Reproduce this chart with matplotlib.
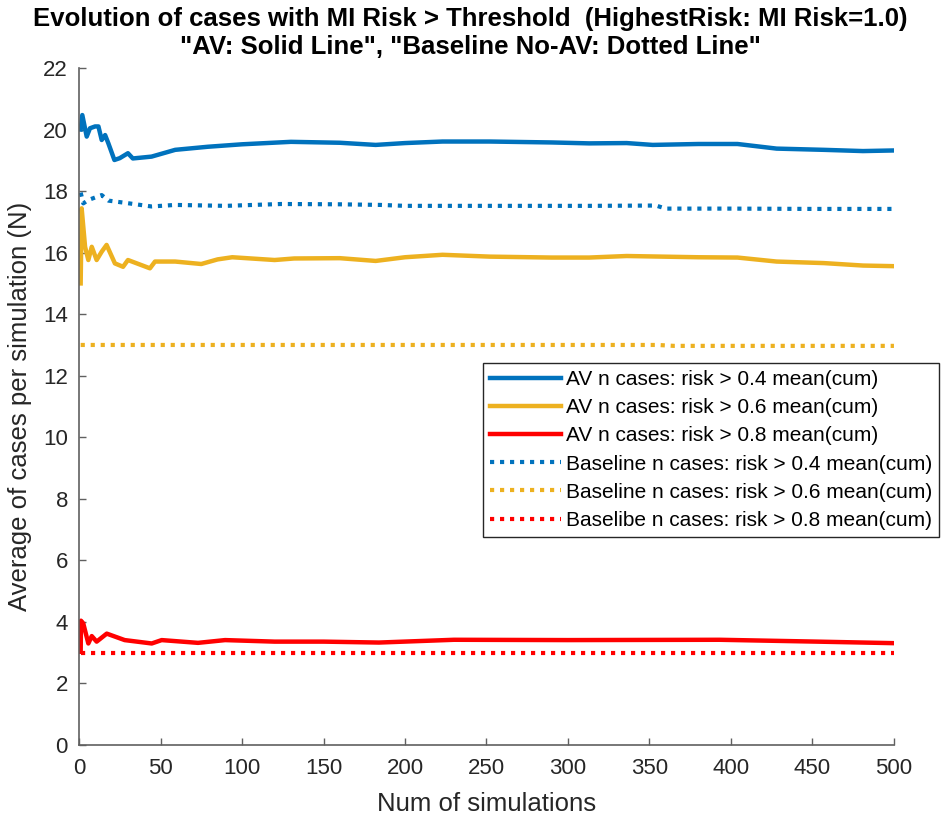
import matplotlib
matplotlib.use("Agg")
import matplotlib.pyplot as plt

plt.rcParams['font.family'] = ['Liberation Sans', 'DejaVu Sans']

# cumulative mean of cases per simulation, AV runs (solid)
av04_x = [1, 2, 4.7, 6.7, 9.8, 11.9, 13.9, 16, 18, 21.7, 25, 30, 33, 44.5, 59, 79, 100, 130,
          160, 182, 200, 223, 252, 290, 313, 336, 352, 380, 404, 428, 457, 481, 500]
av04_y = [20.0, 20.47, 19.77, 20.04, 20.1, 20.1, 19.66, 19.82, 19.55, 19.01, 19.07, 19.23, 19.06,
          19.12, 19.34, 19.44, 19.52, 19.6, 19.57, 19.5, 19.56, 19.61, 19.61, 19.58, 19.55,
          19.56, 19.5, 19.53, 19.53, 19.38, 19.34, 19.3, 19.32]

av06_x = [1, 1.6, 3.7, 5.7, 7.8, 10.8, 13.9, 16.9, 22, 27, 30, 43.5, 46.6, 59, 75, 85, 94,
          120, 132, 160, 182, 200, 223, 252, 290, 313, 336, 380, 404, 428, 457, 481, 500]
av06_y = [15.0, 17.44, 16.19, 15.76, 16.19, 15.76, 16.03, 16.25, 15.65, 15.54, 15.76, 15.49,
          15.71, 15.71, 15.63, 15.78, 15.85, 15.76, 15.81, 15.82, 15.73, 15.85, 15.93, 15.87,
          15.84, 15.84, 15.89, 15.85, 15.84, 15.71, 15.66, 15.58, 15.56]

av08_x = [1, 1.2, 2.6, 5.7, 7.8, 10.8, 17, 28, 44.6, 50.7, 73, 89.6, 120, 150, 184, 230,
          300, 393, 453, 500]
av08_y = [3.03, 4.04, 3.95, 3.3, 3.54, 3.36, 3.62, 3.41, 3.3, 3.41, 3.32, 3.41, 3.36, 3.36,
          3.33, 3.42, 3.41, 3.42, 3.36, 3.31]

# baseline (no AV) runs, dotted
base04_x = [1, 2.6, 5.7, 13.9, 18, 28, 44.5, 59, 90, 124, 160, 185, 200, 250, 313, 354,
            360, 400, 450, 500]
base04_y = [17.95, 17.6, 17.71, 17.87, 17.69, 17.62, 17.5, 17.55, 17.52, 17.58, 17.57, 17.55,
            17.52, 17.52, 17.52, 17.53, 17.43, 17.43, 17.42, 17.42]

base06_x = [1, 100, 200, 300, 355, 365, 400, 500]
base06_y = [13.0, 13.0, 13.0, 13.0, 13.0, 12.97, 12.97, 12.97]

base08_x = [1, 100, 200, 300, 400, 500]
base08_y = [3.0, 3.0, 3.0, 3.0, 3.0, 3.0]

labels = ['AV n cases: risk > 0.4 mean(cum)',
          'AV n cases: risk > 0.6 mean(cum)',
          'AV n cases: risk > 0.8 mean(cum)',
          'Baseline n cases: risk > 0.4 mean(cum)',
          'Baseline n cases: risk > 0.6 mean(cum)',
          'Baselibe n cases: risk > 0.8 mean(cum)']

blue = '#0072BD'
yellow = '#EDB120'
red = '#FF0000'

fig = plt.figure(figsize=(9.41, 8.18), dpi=100)
ax = fig.add_axes([0.084, 0.0892, 0.866, 0.8277])

dots = (0, (1, 1.4))
ax.plot(av04_x, av04_y, color=blue, lw=3.2, label=labels[0])
ax.plot(av06_x, av06_y, color=yellow, lw=3.2, label=labels[1])
ax.plot(av08_x, av08_y, color=red, lw=3.2, label=labels[2])
ax.plot(base04_x, base04_y, color=blue, lw=3, ls=dots, label=labels[3])
ax.plot(base06_x, base06_y, color=yellow, lw=3, ls=dots, label=labels[4])
ax.plot(base08_x, base08_y, color=red, lw=3, ls=dots, label=labels[5])

ax.set_xlim(0, 500)
ax.set_ylim(0, 22)
ax.set_xticks(range(0, 501, 50))
ax.set_yticks(range(0, 23, 2))
ax.tick_params(direction='in', length=5, width=1, colors='#606060', labelcolor='#262626',
               labelsize=16)
ax.tick_params(axis='x', pad=9)
ax.tick_params(axis='y', pad=8)
for side in ['top', 'right']:
    ax.spines[side].set_visible(False)
for side in ['left', 'bottom']:
    ax.spines[side].set_color('#606060')
    ax.spines[side].set_linewidth(1.2)

ax.set_xlabel('Num of simulations', fontsize=18.5, color='#262626', labelpad=10)
ax.set_ylabel('Average of cases per simulation (N)', fontsize=18.5, color='#262626', labelpad=8)

fig.text(0.5, 0.991, 'Evolution of cases with MI Risk > Threshold  (HighestRisk: MI Risk=1.0)\n'
         '"AV: Solid Line", "Baseline No-AV: Dotted Line"',
         ha='center', va='top', fontsize=18.5, fontweight='bold', linespacing=1.2)

leg = fig.legend(loc='upper left', bbox_to_anchor=(0.513, 0.556), fontsize=15,
                 handlelength=3.45, labelspacing=0.44, borderpad=0.33, handletextpad=0.2,
                 fancybox=False, framealpha=1, borderaxespad=0)
leg.get_frame().set_edgecolor('#262626')
leg.get_frame().set_linewidth(1)

fig.savefig('out.png', dpi=100)
